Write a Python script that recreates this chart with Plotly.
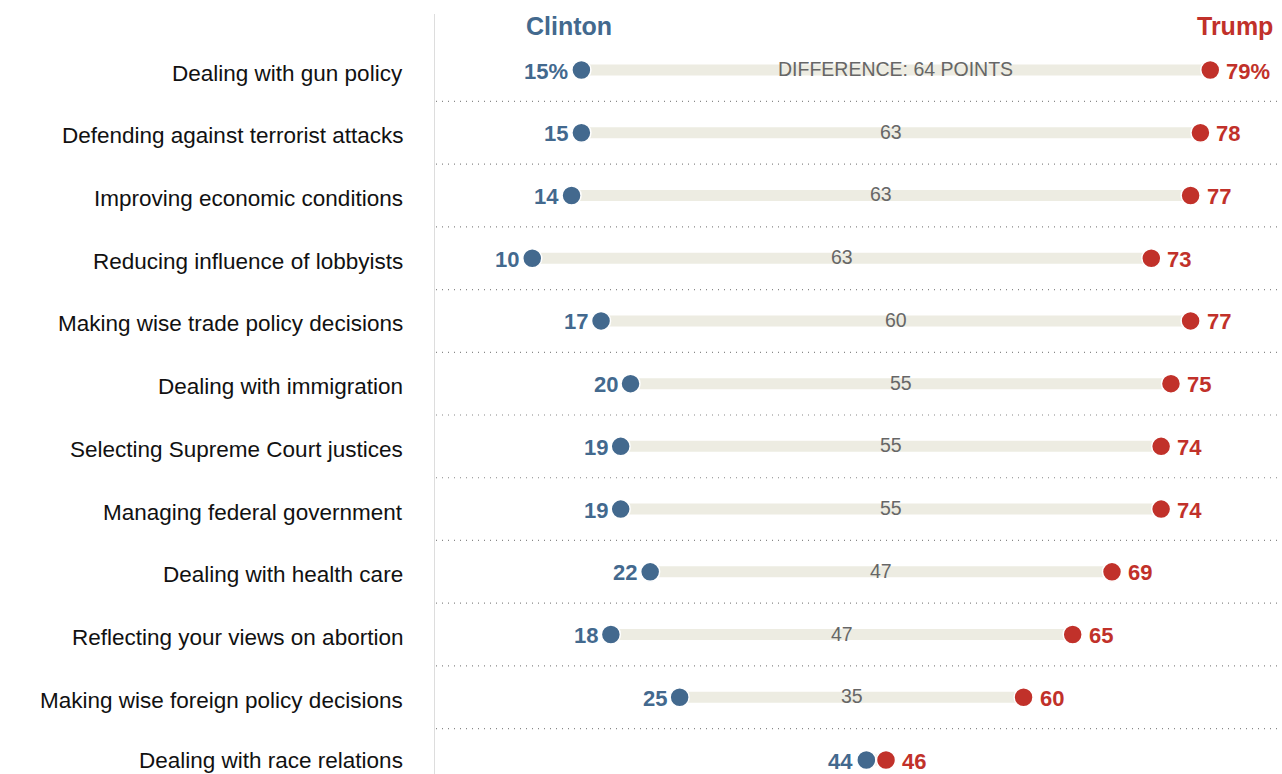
import plotly.graph_objects as go

categories = [
    "Dealing with gun policy",
    "Defending against terrorist attacks",
    "Improving economic conditions",
    "Reducing influence of lobbyists",
    "Making wise trade policy decisions",
    "Dealing with immigration",
    "Selecting Supreme Court justices",
    "Managing federal government",
    "Dealing with health care",
    "Reflecting your views on abortion",
    "Making wise foreign policy decisions",
    "Dealing with race relations",
]
clinton = [15, 15, 14, 10, 17, 20, 19, 19, 22, 18, 25, 44]
trump = [79, 78, 77, 73, 77, 75, 74, 74, 69, 65, 60, 46]
clinton_labels = ["15%"] + [str(v) for v in clinton[1:]]
trump_labels = ["79%"] + [str(v) for v in trump[1:]]
diff_labels = ["DIFFERENCE: 64 POINTS", "63", "63", "63", "60", "55", "55", "55", "47", "47", "35", ""]

BLUE = "#43698e"
RED = "#c1312a"
BAR = "#edece2"
FONT = "Liberation Sans"

fig = go.Figure()
n = len(categories)
ys = list(range(n))

# connecting bars
for i in range(n):
    fig.add_trace(go.Scatter(
        x=[clinton[i], trump[i]], y=[i, i], mode="lines",
        line=dict(color=BAR, width=11), hoverinfo="skip", showlegend=False))

fig.add_trace(go.Scatter(
    x=clinton, y=ys, mode="markers", name="Clinton",
    marker=dict(size=19, color=BLUE, line=dict(color="white", width=1.5)),
    showlegend=False))
fig.add_trace(go.Scatter(
    x=trump, y=ys, mode="markers", name="Trump",
    marker=dict(size=19, color=RED, line=dict(color="white", width=1.5)),
    showlegend=False))

ann = []
for i in range(n):
    ann.append(dict(x=clinton[i], y=i, text=clinton_labels[i], showarrow=False,
                    xanchor="right", xshift=-11, yshift=-1,
                    font=dict(family=FONT, size=22, color=BLUE, weight="bold")))
    ann.append(dict(x=trump[i], y=i, text=trump_labels[i], showarrow=False,
                    xanchor="left", xshift=14, yshift=-1,
                    font=dict(family=FONT, size=22, color=RED, weight="bold")))
    if diff_labels[i]:
        ann.append(dict(x=(clinton[i] + trump[i]) / 2, y=i, text=diff_labels[i],
                        showarrow=False, xanchor="center", yshift=1,
                        font=dict(family=FONT, size=19.5, color="#666666")))
    ann.append(dict(x=0, y=i, text=categories[i], showarrow=False, xanchor="right",
                    xshift=-29, yshift=(-3 if i < n - 1 else 0),
                    font=dict(family=FONT, size=22.5, color="#111111")))

ann.append(dict(xref="paper", yref="paper", x=(569 - 434) / 848, y=1 - 26 / 774,
                text="Clinton", showarrow=False, xanchor="center", yanchor="middle",
                font=dict(family=FONT, size=25, color=BLUE, weight="bold")))
ann.append(dict(xref="paper", yref="paper", x=(1275 - 434) / 848, y=1 - 26 / 774,
                text="Trump", showarrow=False, xanchor="right", yanchor="middle",
                font=dict(family=FONT, size=25, color=RED, weight="bold")))

shapes = []
for i in range(n - 1):
    shapes.append(dict(type="line", xref="x", yref="y", x0=-424 / 9.826, x1=(1278 - 434) / 9.826,
                       y0=i + 0.5, y1=i + 0.5, line=dict(color="#888888", width=1.2, dash="1px,5px"),
                       layer="below"))
shapes.append(dict(type="line", xref="x", yref="paper", x0=0, x1=0, y0=0, y1=1 - 14 / 774,
                   line=dict(color="#bbbbbb", width=1), layer="below"))

fig.update_layout(
    width=1282, height=774,
    margin=dict(l=434, r=0, t=0, b=0),
    paper_bgcolor="white", plot_bgcolor="white",
    xaxis=dict(range=[0, 848 / 9.826], visible=False, showgrid=False, zeroline=False),
    yaxis=dict(range=[11.223, -1.116], visible=False, showgrid=False, zeroline=False),
    annotations=ann, shapes=shapes,
)

fig.write_html("out.html", config={"displayModeBar": False},
               post_script="document.body.style.margin='0';document.body.style.overflow='hidden';")
